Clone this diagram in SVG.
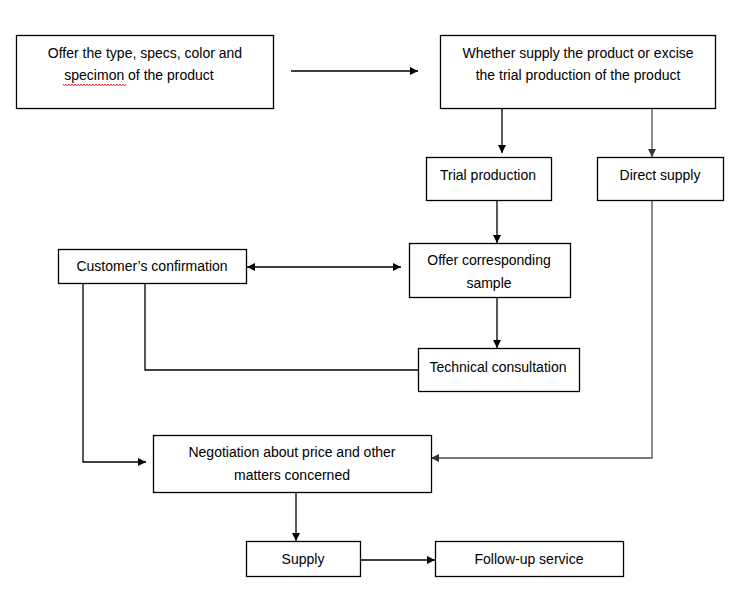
<svg xmlns="http://www.w3.org/2000/svg" width="746" height="601" viewBox="0 0 746 601">
<style>
.box{fill:#fff;stroke:#000;stroke-width:1.3}
.t{font-family:"Liberation Sans",Arial,sans-serif;font-size:14px;fill:#000;text-anchor:middle}
.c{fill:none;stroke:#000;stroke-width:1.3}
.g{stroke:#505050}
</style>
<defs>
<marker id="ah" viewBox="0 0 10 10" refX="10" refY="5" markerWidth="9" markerHeight="8" markerUnits="userSpaceOnUse" orient="auto-start-reverse">
<path d="M0,0 L10,5 L0,10 z" fill="#000"/>
</marker>
<marker id="ahg" viewBox="0 0 10 10" refX="10" refY="5" markerWidth="9" markerHeight="8" markerUnits="userSpaceOnUse" orient="auto">
<path d="M0,0 L10,5 L0,10 z" fill="#333"/>
</marker>
</defs>
<rect width="746" height="601" fill="#fff"/>
<g id="connectors">
<line class="c" x1="291" y1="71" x2="418" y2="71" marker-end="url(#ah)"/>
<line class="c" x1="502" y1="108" x2="502" y2="153" marker-end="url(#ah)"/>
<line class="c g" x1="652" y1="108" x2="652" y2="157" marker-end="url(#ahg)"/>
<line class="c" x1="497" y1="200" x2="497" y2="243" marker-end="url(#ah)"/>
<line class="c" x1="247" y1="267" x2="401" y2="267" marker-start="url(#ah)" marker-end="url(#ah)"/>
<line class="c" x1="497" y1="297" x2="497" y2="348" marker-end="url(#ah)"/>
<polyline class="c" points="145,283 145,370 418,370"/>
<polyline class="c" points="83,283 83,462 146,462" marker-end="url(#ah)"/>
<polyline class="c g" points="652,200 652,458 431,458" marker-end="url(#ahg)"/>
<line class="c" x1="296" y1="492" x2="296" y2="541" marker-end="url(#ah)"/>
<line class="c" x1="360" y1="560" x2="435" y2="560" marker-end="url(#ah)"/>
</g>
<g id="offer-type">
<rect class="box" x="16.5" y="35.5" width="257" height="73"/>
<text class="t" x="145" y="58">Offer the type, specs, color and</text>
<text class="t" x="139" y="80">specimon of the product</text>
<polyline fill="none" stroke="#e00" stroke-width="0.8" points="63,84 64.5,86 66,84 67.5,86 69,84 70.5,86 72,84 73.5,86 75,84 76.5,86 78,84 79.5,86 81,84 82.5,86 84,84 85.5,86 87,84 88.5,86 90,84 91.5,86 93,84 94.5,86 96,84 97.5,86 99,84 100.5,86 102,84 103.5,86 105,84 106.5,86 108,84 109.5,86 111,84 112.5,86 114,84 115.5,86 117,84 118.5,86 120,84 121.5,86 123,84 124.5,86 126,84"/>
</g>
<g id="whether-supply">
<rect class="box" x="440.5" y="35.5" width="275" height="73"/>
<text class="t" x="578" y="58">Whether supply the product or excise</text>
<text class="t" x="578" y="80">the trial production of the product</text>
</g>
<g id="trial-production">
<rect class="box" x="426.5" y="157.5" width="125" height="43"/>
<text class="t" x="488" y="180">Trial production</text>
</g>
<g id="direct-supply">
<rect class="box" x="597.5" y="157.5" width="126" height="43"/>
<text class="t" x="660" y="180">Direct supply</text>
</g>
<g id="offer-sample">
<rect class="box" x="409.5" y="243.5" width="161" height="54"/>
<text class="t" x="489" y="265">Offer corresponding</text>
<text class="t" x="489" y="288">sample</text>
</g>
<g id="customer-confirmation">
<rect class="box" x="58.5" y="249.5" width="188" height="34"/>
<text class="t" x="152" y="271">Customer’s confirmation</text>
</g>
<g id="technical-consultation">
<rect class="box" x="418.5" y="348.5" width="161" height="43"/>
<text class="t" x="498" y="372">Technical consultation</text>
</g>
<g id="negotiation">
<rect class="box" x="153.5" y="435.5" width="278" height="57"/>
<text class="t" x="292" y="457">Negotiation about price and other</text>
<text class="t" x="292" y="480">matters concerned</text>
</g>
<g id="supply">
<rect class="box" x="246.5" y="541.5" width="114" height="35"/>
<text class="t" x="303" y="564">Supply</text>
</g>
<g id="follow-up">
<rect class="box" x="435.5" y="541.5" width="188" height="35"/>
<text class="t" x="529" y="564">Follow-up service</text>
</g>
</svg>
